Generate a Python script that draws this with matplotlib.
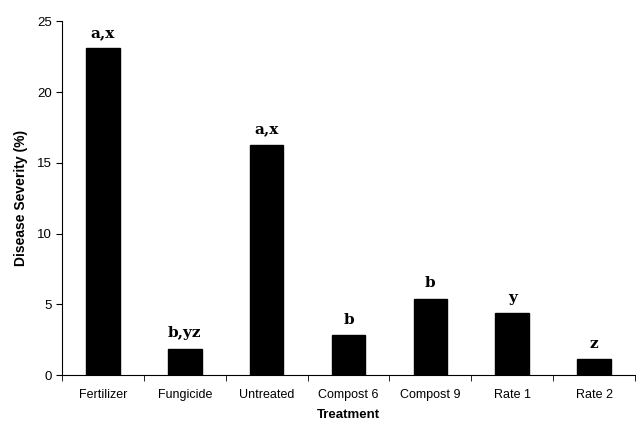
import numpy as np
import matplotlib
matplotlib.use('Agg')
import matplotlib.pyplot as plt

treatments = ['Fertilizer', 'Fungicide', 'Untreated', 'Compost 6', 'Compost 9', 'Rate 1', 'Rate 2']
severity = [23.1, 1.88, 16.27, 2.84, 5.4, 4.39, 1.13]
letters = ['a,x', 'b,yz', 'a,x', 'b', 'b', 'y', 'z']

plt.rcParams['font.family'] = ['Liberation Sans', 'DejaVu Sans']

fig = plt.figure(figsize=(6.36, 4.24), dpi=100)
ax = fig.add_axes([0.0975, 0.115, 0.901, 0.835])

x = np.arange(len(treatments))
bars = ax.bar(x, severity, width=0.41, color='black', edgecolor='black')

for xi, v, lab in zip(x, severity, letters):
  ax.annotate(lab, (xi, v), xytext=(0, 6), textcoords='offset points',
              ha='center', va='bottom', fontsize=11, fontweight='bold',
              family='DejaVu Serif')

ax.set_xlim(-0.5, len(treatments) - 0.5)
ax.set_ylim(0, 25)
ax.set_yticks([0, 5, 10, 15, 20, 25])
ax.set_xticks(x)
ax.set_xticklabels(treatments, fontsize=9)
ax.set_xticks(np.arange(-0.5, len(treatments)), minor=True)
ax.tick_params(axis='x', which='major', length=0, pad=10)
ax.tick_params(axis='x', which='minor', length=4, direction='out')
ax.tick_params(axis='y', labelsize=9.5, length=4, direction='out')

for s in ['top', 'right']:
  ax.spines[s].set_visible(False)

ax.set_ylabel('Disease Severity (%)', fontsize=10, fontweight='bold', labelpad=6)
ax.set_xlabel('Treatment', fontsize=9.5, fontweight='bold', labelpad=6)

fig.savefig('out.png', dpi=100)
